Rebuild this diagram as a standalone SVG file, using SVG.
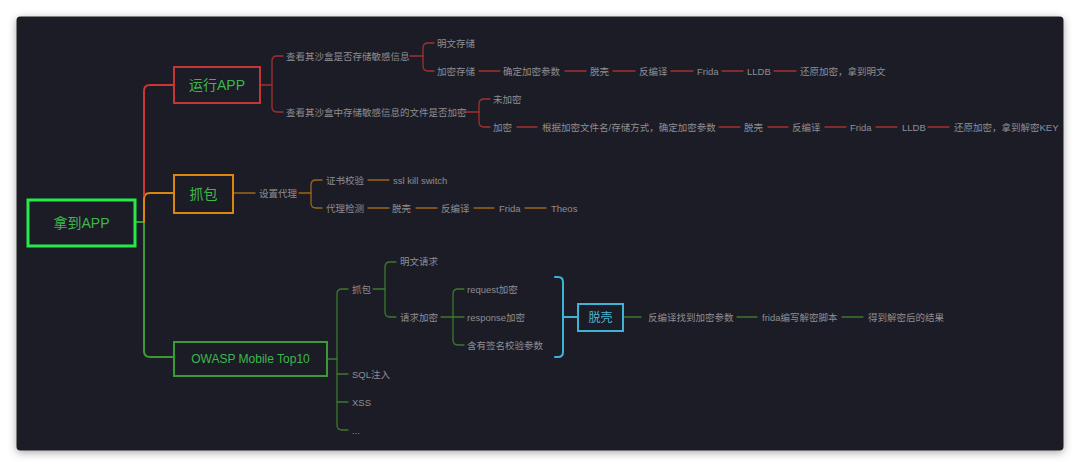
<svg xmlns="http://www.w3.org/2000/svg" width="1080" height="467" viewBox="0 0 1080 467">
<defs>
<filter id="sh" x="-5%" y="-5%" width="110%" height="115%">
<feDropShadow dx="0" dy="2" stdDeviation="4" flood-color="#000" flood-opacity="0.35"/>
</filter>
<style>
.t{font-family:"Liberation Sans","Noto Sans CJK SC",sans-serif;font-size:9.5px;fill:#8e8e93;dominant-baseline:central}
.n{font-family:"Liberation Sans","Noto Sans CJK SC",sans-serif;fill:#3cb84a;text-anchor:middle;dominant-baseline:central}
.c{fill:none;stroke-linecap:round;stroke-linejoin:round}
.red{stroke:#cc3636;stroke-width:2}
.red2{stroke:#a3302f;stroke-width:1.3}
.org{stroke:#d9870f;stroke-width:2}
.org2{stroke:#9e6516;stroke-width:1.3}
.grn{stroke:#3c9a34;stroke-width:2}
.grn2{stroke:#3b7a2b;stroke-width:1.3}
.cy{stroke:#3fb2d6;stroke-width:2}
</style>
</defs>
<rect x="0" y="0" width="1080" height="467" fill="#ffffff"/>
<rect x="16.5" y="16.5" width="1047" height="434" rx="4" fill="#1f1f27" filter="url(#sh)"/>

<g id="connectors">
<path class="c grn" d="M135,222 H144 V351 Q144,357 150,357 H173"/>
<path class="c org" d="M144,222 V199 Q144,193 150,193 H173"/>
<path class="c red" d="M144,195 V91 Q144,85 150,85 H173"/>

<path class="c red2" d="M260,85 H272"/>
<path class="c red2" d="M283,56 H277 Q272,56 272,61 V107 Q272,112 277,112 H283"/>
<path class="c red2" d="M410,56 H423"/>
<path class="c red2" d="M434,43 H428 Q423,43 423,48 V66 Q423,71 428,71 H434"/>
<path class="c red2" d="M479,71 H500 M565,71 H586 M613,71 H635 M671,71 H693 M722,71 H743 M774,71 H796"/>
<path class="c red2" d="M466,112 H479"/>
<path class="c red2" d="M490,99 H484 Q479,99 479,104 V122 Q479,127 484,127 H490"/>
<path class="c red2" d="M517,127 H537 M719,127 H740 M768,127 H788 M825,127 H846 M876,127 H897 M928,127 H949"/>

<path class="c org2" d="M233,193 H255 M299,193 H311"/>
<path class="c org2" d="M322,180 H316 Q311,180 311,185 V203 Q311,208 316,208 H322"/>
<path class="c org2" d="M368,180 H389 M368,208 H389 M416,208 H437 M474,208 H494 M525,208 H546"/>

<path class="c grn2" d="M327,359 H337"/>
<path class="c grn2" d="M348,289 H342 Q337,289 337,294 V425 Q337,430 342,430 H348 M337,374 H348 M337,402 H348"/>
<path class="c grn2" d="M373,289 H385"/>
<path class="c grn2" d="M396,262 H390 Q385,262 385,267 V312 Q385,317 390,317 H396"/>
<path class="c grn2" d="M441,317 H453"/>
<path class="c grn2" d="M464,289 H458 Q453,289 453,294 V340 Q453,345 458,345 H464 M453,317 H464"/>
<path class="c cy" d="M555,277 H558 Q563,277 563,282 V352 Q563,357 558,357 H555 M563,317 H578"/>
<path class="c grn2" d="M623,317 H641 M737,317 H757 M842,317 H863"/>
</g>

<g id="root">
<rect x="28" y="200" width="107" height="46" fill="none" stroke="#25ea48" stroke-width="3"/>
<text class="n" x="81.5" y="223" font-size="14">拿到APP</text>
</g>
<g id="run-app">
<rect x="174" y="67" width="86" height="36" fill="none" stroke="#c43636" stroke-width="2"/>
<text class="n" x="217" y="85" font-size="14">运行APP</text>
</g>
<g id="capture">
<rect x="174" y="175" width="59" height="38" fill="none" stroke="#d9870f" stroke-width="2"/>
<text class="n" x="203.5" y="194" font-size="14">抓包</text>
</g>
<g id="owasp">
<rect x="174" y="342" width="153" height="34" fill="none" stroke="#3c9a34" stroke-width="2"/>
<text class="n" x="250.5" y="359" font-size="12">OWASP Mobile Top10</text>
</g>
<g id="unpack">
<rect x="578" y="304" width="45" height="27" fill="none" stroke="#3fb2d6" stroke-width="2"/>
<text class="n" x="600.5" y="317.5" font-size="12" style="fill:#4fb6d8">脱壳</text>
</g>

<g id="run-app-children">
<text class="t" x="286" y="56">查看其沙盒是否存储敏感信息</text>
<text class="t" x="286" y="112">查看其沙盒中存储敏感信息的文件是否加密</text>
<text class="t" x="437" y="43">明文存储</text>
<text class="t" x="437" y="71">加密存储</text>
<text class="t" x="503" y="71">确定加密参数</text>
<text class="t" x="590" y="71">脱壳</text>
<text class="t" x="639" y="71">反编译</text>
<text class="t" x="697" y="71">Frida</text>
<text class="t" x="747" y="71">LLDB</text>
<text class="t" x="800" y="71">还原加密，拿到明文</text>
<text class="t" x="493" y="99">未加密</text>
<text class="t" x="493" y="127">加密</text>
<text class="t" x="542" y="127">根据加密文件名/存储方式，确定加密参数</text>
<text class="t" x="744" y="127">脱壳</text>
<text class="t" x="792" y="127">反编译</text>
<text class="t" x="850" y="127">Frida</text>
<text class="t" x="902" y="127">LLDB</text>
<text class="t" x="954" y="127">还原加密，拿到解密KEY</text>
</g>

<g id="capture-children">
<text class="t" x="259" y="193">设置代理</text>
<text class="t" x="326" y="180">证书校验</text>
<text class="t" x="393" y="180">ssl kill switch</text>
<text class="t" x="326" y="208">代理检测</text>
<text class="t" x="392" y="208">脱壳</text>
<text class="t" x="441" y="208">反编译</text>
<text class="t" x="499" y="208">Frida</text>
<text class="t" x="551" y="208">Theos</text>
</g>

<g id="owasp-children">
<text class="t" x="352" y="289">抓包</text>
<text class="t" x="352" y="374">SQL注入</text>
<text class="t" x="352" y="402">XSS</text>
<text class="t" x="352" y="430">...</text>
<text class="t" x="400" y="261">明文请求</text>
<text class="t" x="400" y="317">请求加密</text>
<text class="t" x="467" y="289">request加密</text>
<text class="t" x="467" y="317">response加密</text>
<text class="t" x="467" y="345">含有签名校验参数</text>
<text class="t" x="648" y="317">反编译找到加密参数</text>
<text class="t" x="762" y="317">frida编写解密脚本</text>
<text class="t" x="868" y="317">得到解密后的结果</text>
</g>
</svg>
